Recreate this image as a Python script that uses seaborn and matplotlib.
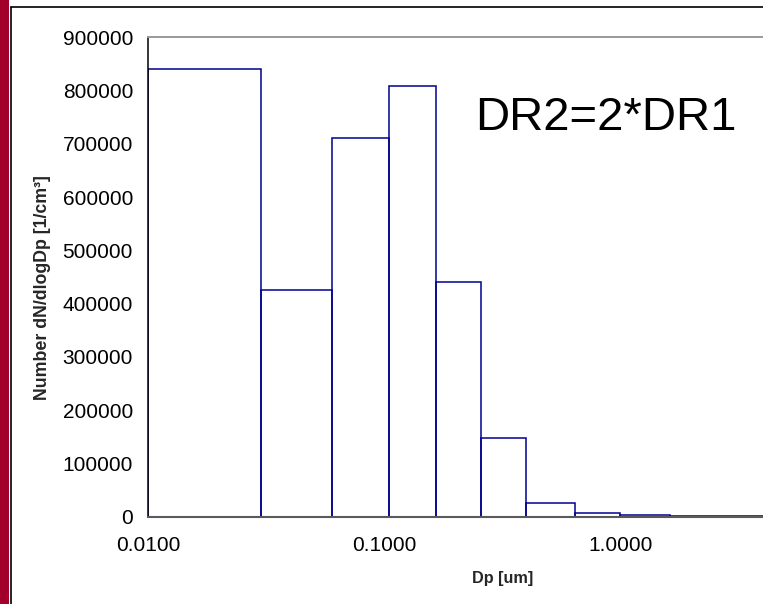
import numpy as np
import pandas as pd
import seaborn as sns
import matplotlib.pyplot as plt
from matplotlib.lines import Line2D
from matplotlib.patches import Rectangle
from matplotlib.ticker import FixedLocator, FuncFormatter, NullLocator

# Bin edges (um) and bar heights
bin_edges = [0.01, 0.03, 0.06, 0.105, 0.166, 0.257, 0.40, 0.646, 1.0, 1.63, 10.0]
dndlogdp = [841000, 425000, 711000, 809000, 440000, 148000, 24500, 7500, 3000, 800]
y_ticks = [0, 100000, 200000, 300000, 400000, 500000, 600000, 700000, 800000, 900000]
x_ticks = [0.01, 0.1, 1.0]

# one observation per bin at its geometric centre, weighted with the height
edges = np.array(bin_edges)
df = pd.DataFrame({'dp': np.sqrt(edges[:-1] * edges[1:]), 'height': dndlogdp})
log_bins = [float(v) for v in np.log10(edges)]  # seaborn bins in log space

sns.set_style("white")
plt.rcParams['font.family'] = ['Liberation Sans', 'DejaVu Sans']

W, H = 763, 604
fig = plt.figure(figsize=(W / 100, H / 100), dpi=100)

# slide decoration: red strip and the black frame of the chart area
fig.add_artist(Rectangle((0, 0), 9 / W, 1, transform=fig.transFigure, color='#A2002A', lw=0))
fig.add_artist(Line2D([10.5 / W, 10.5 / W], [0, 1 - 7 / H], transform=fig.transFigure, color='black', lw=1.2))
fig.add_artist(Line2D([10.5 / W, 1], [1 - 7 / H, 1 - 7 / H], transform=fig.transFigure, color='black', lw=1.2))

# plot area runs past the right edge of the picture (axis ends at 10 um)
left, right, bottom, top = 148.3, 856, 516.5, 37.3
ax = fig.add_axes([left / W, 1 - bottom / H, (right - left) / W, (bottom - top) / H])

sns.histplot(data=df, x='dp', weights='height', bins=log_bins, log_scale=True,
             fill=False, element='bars', color='#000090', linewidth=1.1, ax=ax)

ax.set_xlim(0.01, 10)
ax.set_ylim(0, 900000)
ax.xaxis.set_major_locator(FixedLocator(x_ticks))
ax.xaxis.set_minor_locator(NullLocator())
ax.xaxis.set_major_formatter(FuncFormatter(lambda v, p: f"{v:.4f}"))
ax.set_yticks(y_ticks)
ax.yaxis.set_major_formatter(FuncFormatter(lambda v, p: f"{int(v)}"))

ax.tick_params(axis='both', direction='out', labelsize=15, colors='black')
ax.tick_params(axis='y', length=6, width=1, pad=5)
ax.tick_params(axis='x', length=5, width=1.2, pad=9, color='#444444')

for s in ax.spines.values():
    s.set_zorder(5)
ax.spines['left'].set_color('black')
ax.spines['left'].set_linewidth(1.1)
ax.spines['bottom'].set_color('#5a5a5a')
ax.spines['bottom'].set_linewidth(1.5)
ax.spines['top'].set_color('#9a9a9a')
ax.spines['top'].set_linewidth(1.4)
ax.spines['right'].set_visible(False)

ax.set_xlabel('Dp [um]', fontsize=11.7, fontweight='bold')
ax.set_ylabel('Number dN/dlogDp [1/cm³]', fontsize=12.8, fontweight='bold')
ax.xaxis.set_label_coords(0.5, -0.114)
ax.yaxis.set_label_coords(-0.1375, 0.477)

fig.text(475 / W, 1 - 130 / H, 'DR2=2*DR1', fontsize=34, color='black',
         ha='left', va='baseline')

fig.savefig('out.png', dpi=100)
